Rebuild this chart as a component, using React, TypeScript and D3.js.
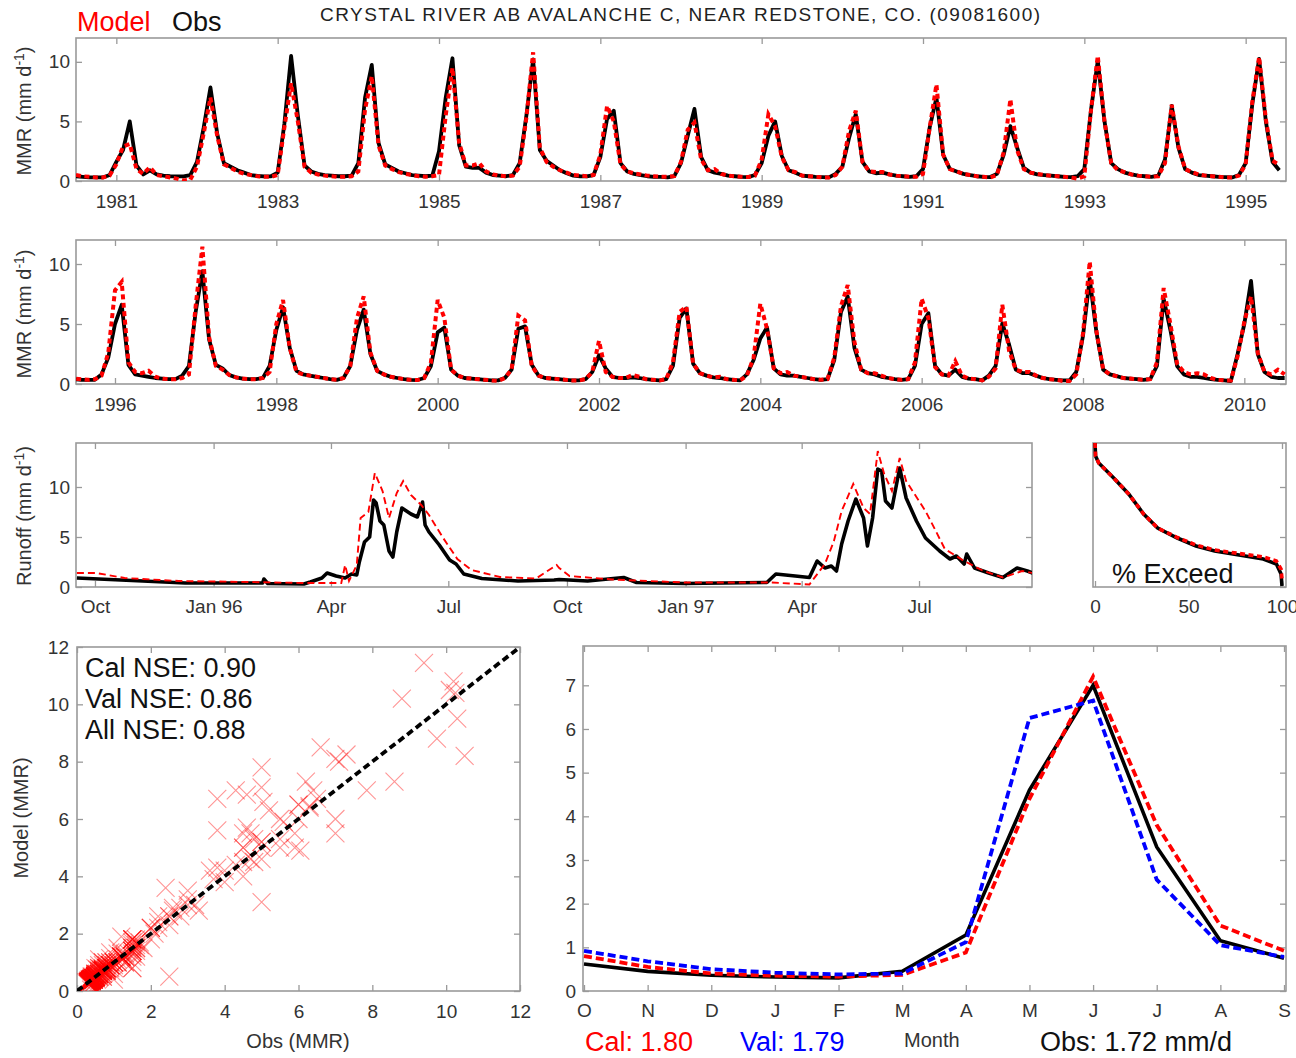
import React, { useEffect, useRef } from 'react';
import * as d3 from 'd3';

const FONT = '"Liberation Sans", Arial, Helvetica, sans-serif';
const RED = '#ff0000';
const BLUE = '#0000ff';
const FRAME = '#9a9a9a';

// monthly mean runoff (mm/d), water years 1981-1995, Oct..Sep per row
const OBS_81_95 = [
  0.4, 0.35, 0.3, 0.3, 0.3, 0.5, 1.6, 2.6, 5.0, 1.3, 0.55, 0.9,
  0.55, 0.45, 0.4, 0.38, 0.38, 0.5, 1.6, 4.5, 7.85, 4.0, 1.5, 1.2,
  0.9, 0.7, 0.5, 0.42, 0.38, 0.4, 0.7, 4.8, 10.5, 5.5, 1.3, 0.8,
  0.6, 0.5, 0.45, 0.4, 0.4, 0.45, 1.5, 7.0, 9.75, 3.2, 1.4, 1.1,
  0.8, 0.65, 0.5, 0.45, 0.4, 0.45, 2.5, 7.0, 10.3, 3.0, 1.2, 1.1,
  1.1, 0.7, 0.5, 0.45, 0.4, 0.5, 1.5, 5.5, 10.2, 2.6, 1.7, 1.3,
  0.9, 0.65, 0.45, 0.4, 0.38, 0.5, 2.0, 5.2, 5.9, 1.5, 0.8, 0.6,
  0.5, 0.4, 0.35, 0.35, 0.3, 0.4, 1.5, 3.8, 6.05, 2.0, 0.9, 0.7,
  0.6, 0.45, 0.4, 0.35, 0.33, 0.5, 1.5, 3.8, 5.0, 2.1, 0.9, 0.7,
  0.45, 0.4, 0.35, 0.32, 0.3, 0.6, 1.2, 3.6, 5.6, 1.6, 0.8, 0.65,
  0.7, 0.55, 0.45, 0.4, 0.35, 0.4, 1.0, 4.5, 7.0, 2.2, 1.0, 0.8,
  0.6, 0.5, 0.4, 0.35, 0.33, 0.6, 2.2, 4.6, 2.8, 1.1, 0.7, 0.55,
  0.5, 0.45, 0.4, 0.35, 0.33, 0.4, 1.0, 6.0, 10.1, 5.0, 1.5, 1.0,
  0.7, 0.55, 0.45, 0.4, 0.35, 0.45, 1.8, 6.3, 2.8, 1.0, 0.7, 0.5,
  0.45, 0.4, 0.35, 0.33, 0.3, 0.5, 1.5, 6.5, 10.25, 5.0, 1.6, 0.9,
];
const MOD_81_95 = [
  0.5, 0.4, 0.35, 0.3, 0.3, 0.45, 1.4, 2.9, 3.1, 1.0, 0.6, 1.15,
  0.5, 0.4, 0.3, 0.2, 0.05, 0.1, 1.2, 4.0, 7.0, 3.8, 1.4, 1.1,
  0.8, 0.6, 0.5, 0.4, 0.35, 0.35, 0.5, 4.5, 8.2, 5.0, 1.2, 0.7,
  0.55, 0.45, 0.4, 0.35, 0.35, 0.4, 0.8, 6.0, 8.8, 3.0, 1.3, 1.0,
  0.75, 0.6, 0.5, 0.4, 0.35, 0.4, 0.5, 5.5, 9.5, 3.2, 1.3, 1.3,
  1.5, 0.8, 0.55, 0.45, 0.4, 0.45, 1.2, 5.3, 10.8, 2.8, 1.6, 1.2,
  0.9, 0.7, 0.5, 0.45, 0.4, 0.5, 2.2, 6.3, 5.0, 1.4, 0.8, 0.65,
  0.55, 0.45, 0.4, 0.35, 0.35, 0.4, 1.6, 4.3, 4.9, 1.8, 0.9, 1.0,
  0.6, 0.45, 0.4, 0.35, 0.33, 0.45, 1.8, 5.6, 4.6, 2.0, 0.9, 0.75,
  0.45, 0.4, 0.35, 0.3, 0.3, 0.5, 1.2, 4.2, 5.9, 1.6, 0.8, 0.75,
  0.75, 0.55, 0.45, 0.4, 0.35, 0.35, 0.6, 4.5, 8.1, 2.2, 1.0, 0.8,
  0.6, 0.5, 0.4, 0.35, 0.3, 0.5, 2.4, 6.85, 2.6, 1.0, 0.7, 0.6,
  0.5, 0.45, 0.4, 0.35, 0.3, 0.2, 0.4, 6.0, 10.5, 5.0, 1.5, 0.9,
  0.75, 0.55, 0.45, 0.4, 0.35, 0.4, 1.5, 6.4, 2.9, 1.0, 0.75, 0.55,
  0.45, 0.4, 0.35, 0.3, 0.3, 0.45, 1.4, 6.7, 10.4, 5.2, 1.7, 1.35,
];

// water years 1996-2010 plus Oct-Nov 2010
const OBS_96_10 = [
  0.5, 0.4, 0.35, 0.35, 0.35, 0.8, 2.2, 5.0, 6.6, 1.6, 0.8, 0.7,
  0.6, 0.5, 0.45, 0.4, 0.4, 0.7, 1.5, 6.0, 9.4, 3.7, 1.6, 1.3,
  0.75, 0.55, 0.45, 0.4, 0.4, 0.5, 1.5, 4.5, 6.4, 3.0, 1.1, 0.8,
  0.7, 0.6, 0.5, 0.4, 0.35, 0.5, 1.5, 4.5, 6.2, 2.5, 1.1, 0.8,
  0.6, 0.5, 0.4, 0.35, 0.33, 0.5, 1.5, 4.3, 4.7, 1.2, 0.7, 0.5,
  0.45, 0.4, 0.35, 0.3, 0.3, 0.5, 1.2, 4.6, 4.8, 1.6, 0.7, 0.5,
  0.45, 0.4, 0.35, 0.3, 0.3, 0.4, 1.0, 2.4, 1.3, 0.6, 0.5, 0.5,
  0.55, 0.5, 0.4, 0.35, 0.3, 0.4, 1.5, 5.5, 6.3, 1.7, 0.9, 0.7,
  0.55, 0.5, 0.4, 0.35, 0.3, 0.8, 2.0, 3.8, 4.7, 1.3, 0.8, 0.7,
  0.7, 0.6, 0.5, 0.4, 0.35, 0.4, 2.0, 6.0, 7.3, 3.0, 1.2, 0.9,
  0.8, 0.6, 0.5, 0.4, 0.35, 0.4, 1.5, 5.0, 5.9, 1.5, 0.8, 0.7,
  1.2, 0.6, 0.45, 0.4, 0.3, 0.7, 1.5, 5.05, 3.3, 1.2, 0.9, 0.9,
  0.7, 0.5, 0.4, 0.35, 0.3, 0.3, 1.0, 4.0, 8.8, 4.3, 1.2, 0.8,
  0.65, 0.5, 0.45, 0.4, 0.35, 0.4, 1.5, 7.1, 4.5, 1.5, 0.8, 0.6,
  0.6, 0.5, 0.4, 0.35, 0.3, 0.25, 2.5, 5.0, 8.6, 2.5, 1.0, 0.6,
  0.5, 0.5,
];
const MOD_96_10 = [
  0.6, 0.45, 0.4, 0.35, 0.4, 0.7, 2.6, 7.8, 8.5, 1.8, 1.0, 0.9,
  1.1, 0.6, 0.45, 0.4, 0.4, 0.5, 0.8, 6.5, 11.45, 3.9, 1.5, 1.2,
  0.75, 0.55, 0.45, 0.4, 0.4, 0.5, 1.0, 5.0, 7.0, 3.0, 1.0, 0.8,
  0.7, 0.6, 0.5, 0.4, 0.35, 0.5, 1.5, 5.5, 7.3, 2.6, 1.1, 0.8,
  0.6, 0.5, 0.4, 0.35, 0.33, 0.5, 1.8, 7.0, 5.5, 1.2, 0.7, 0.5,
  0.45, 0.4, 0.35, 0.3, 0.25, 0.5, 1.2, 5.7, 5.3, 1.5, 0.7, 0.5,
  0.45, 0.4, 0.35, 0.3, 0.3, 0.4, 1.0, 3.6, 1.0, 0.6, 0.5, 0.5,
  0.75, 0.6, 0.4, 0.35, 0.3, 0.4, 1.8, 6.0, 6.45, 1.7, 0.9, 0.7,
  0.55, 0.6, 0.4, 0.35, 0.3, 0.7, 2.2, 6.7, 4.6, 1.3, 0.9, 1.0,
  0.7, 0.6, 0.5, 0.4, 0.35, 0.4, 2.2, 6.5, 8.25, 3.5, 1.2, 0.9,
  0.9, 0.7, 0.5, 0.4, 0.35, 0.4, 1.8, 7.1, 5.5, 1.4, 0.8, 0.7,
  1.9, 0.7, 0.45, 0.4, 0.3, 0.6, 1.3, 6.6, 2.8, 1.2, 1.0, 1.0,
  0.7, 0.5, 0.4, 0.35, 0.25, 0.25, 0.8, 4.2, 10.2, 4.4, 1.2, 0.8,
  0.65, 0.5, 0.45, 0.4, 0.35, 0.4, 1.8, 8.0, 5.0, 1.7, 1.0, 0.8,
  0.9, 0.8, 0.5, 0.35, 0.3, 0.3, 2.3, 5.2, 7.3, 2.6, 1.0, 0.8,
  1.2, 0.8,
];

const YEARS_A = ['1981', '1983', '1985', '1987', '1989', '1991', '1993', '1995'];
const YEARS_B = ['1996', '1998', '2000', '2002', '2004', '2006', '2008', '2010'];

// daily runoff Oct 1995 - Sep 1997, [day since 1995-10-01, mm/d]
const DAILY_OBS = [
  [-14, 0.9], [37, 0.6], [70, 0.4], [120, 0.4], [130, 0.4], [131, 0.8], [134, 0.35], [162, 0.3],
  [167, 0.5], [176, 0.9], [180, 1.4], [187, 1.1], [194, 0.9], [199, 1.3], [203, 1.2], [205, 2.5],
  [209, 4.5], [213, 5.0], [216, 8.7], [218, 8.4], [221, 6.6], [224, 6.2], [228, 3.6], [231, 3.0],
  [234, 5.5], [238, 7.9], [245, 7.3], [250, 7.0], [254, 8.5], [256, 6.2], [259, 5.5], [267, 4.2],
  [275, 2.7], [280, 2.3], [286, 1.3], [300, 0.85], [328, 0.6], [356, 0.7], [360, 0.75], [382, 0.6],
  [410, 0.95], [420, 0.45], [457, 0.35], [521, 0.45], [528, 1.3], [543, 1.1], [554, 0.95], [560, 2.6],
  [566, 1.9], [571, 2.1], [575, 1.6], [579, 4.3], [584, 6.6], [590, 8.8], [596, 6.9], [599, 4.1],
  [603, 6.9], [607, 11.8], [610, 11.6], [613, 8.6], [618, 7.9], [624, 11.9], [629, 8.9], [637, 6.6],
  [644, 4.9], [655, 3.6], [663, 2.8], [668, 3.1], [674, 2.3], [676, 3.3], [682, 1.9], [693, 1.4],
  [704, 0.95], [715, 1.9], [723, 1.6], [727, 1.4],
];
const DAILY_MOD = [
  [-14, 1.4], [1, 1.4], [23, 0.9], [65, 0.6], [120, 0.5], [162, 0.4], [191, 0.4], [194, 2.2],
  [197, 0.6], [203, 2.2], [206, 6.9], [212, 7.5], [217, 11.4], [223, 9.6], [228, 6.9], [234, 9.4],
  [239, 10.6], [245, 9.2], [253, 8.2], [259, 7.2], [270, 4.9], [281, 2.8], [292, 1.7], [314, 1.0],
  [342, 0.85], [358, 2.2], [360, 1.9], [368, 1.1], [401, 0.75], [457, 0.45], [525, 0.45], [554, 0.25],
  [566, 2.3], [573, 4.6], [579, 7.6], [588, 10.3], [596, 7.9], [601, 7.3], [607, 13.6], [612, 11.3],
  [618, 9.6], [624, 12.9], [629, 10.6], [644, 7.6], [652, 5.6], [659, 3.8], [674, 2.6], [689, 1.6],
  [704, 0.95], [719, 1.6], [727, 1.4],
];
const RUNOFF_TICK_DATES = ['1995-10-01', '1996-01-01', '1996-04-01', '1996-07-01', '1996-10-01', '1997-01-01', '1997-04-01', '1997-07-01'];
const RUNOFF_TICK_LABELS = ['Oct', 'Jan 96', 'Apr', 'Jul', 'Oct', 'Jan 97', 'Apr', 'Jul'];

// flow duration curve
const EXC_PCT = [0, 0.3, 2, 10, 18, 26, 33.5, 44, 54, 64, 77, 90, 97, 99.5, 100];
const EXC_OBS = [14.4, 13.1, 12.4, 10.9, 9.3, 7.3, 5.9, 4.9, 4.1, 3.6, 3.2, 2.8, 2.3, 1.3, 0.1];
const EXC_MOD = [14.4, 13.1, 12.4, 10.9, 9.3, 7.3, 5.9, 4.95, 4.2, 3.7, 3.35, 3.0, 2.6, 1.8, 0.8];

// mean monthly climatology
const MONTHS = ['O', 'N', 'D', 'J', 'F', 'M', 'A', 'M', 'J', 'J', 'A', 'S'];
const CLIM_OBS = [0.62, 0.45, 0.36, 0.32, 0.3, 0.45, 1.28, 4.6, 7.0, 3.3, 1.15, 0.75];
const CLIM_CAL = [0.8, 0.55, 0.4, 0.35, 0.33, 0.37, 0.88, 4.4, 7.2, 3.8, 1.5, 0.92];
const CLIM_VAL = [0.92, 0.68, 0.5, 0.42, 0.38, 0.4, 1.12, 6.25, 6.65, 2.55, 1.05, 0.78];

const NSE_LINES = ['Cal NSE: 0.90', 'Val NSE: 0.86', 'All NSE: 0.88'];

const App = () => {
  const ref = useRef<SVGSVGElement>(null);

  useEffect(() => {
    const svg = d3.select(ref.current);
    svg.selectAll('*').remove();
    const defs = svg.append('defs');

    const styleAxis = (g: any, size = 19) => {
      g.select('.domain').remove();
      g.selectAll('line').attr('stroke', FRAME).attr('stroke-width', 1.3);
      g.selectAll('text').attr('font-family', FONT).attr('font-size', size).attr('fill', '#333');
    };
    const box = (x0: number, x1: number, y0: number, y1: number) =>
      svg.append('rect').attr('x', x0).attr('y', y0).attr('width', x1 - x0).attr('height', y1 - y0)
        .attr('fill', 'none').attr('stroke', FRAME).attr('stroke-width', 1.6);
    const clipped = (id: string, x0: number, x1: number, y0: number, y1: number) => {
      defs.append('clipPath').attr('id', id).append('rect')
        .attr('x', x0).attr('y', y0).attr('width', x1 - x0).attr('height', y1 - y0);
      return svg.append('g').attr('clip-path', `url(#${id})`);
    };
    const text = (x: number, y: number, s: string, size: number, fill = '#111', anchor = 'start') =>
      svg.append('text').attr('x', x).attr('y', y).attr('font-family', FONT).attr('font-size', size)
        .attr('fill', fill).attr('text-anchor', anchor).text(s);
    const yLabel = (x: number, cy: number, main: string, size = 20) => {
      const t = svg.append('text').attr('transform', `translate(${x},${cy}) rotate(-90)`)
        .attr('text-anchor', 'middle').attr('font-family', FONT).attr('font-size', size).attr('fill', '#333');
      t.append('tspan').text(main + ' (mm d');
      t.append('tspan').attr('dy', -7).attr('font-size', size * 0.7).text('-1');
      t.append('tspan').attr('dy', 7).text(')');
    };

    // titles
    text(77, 31, 'Model', 27, RED);
    text(172, 31, 'Obs', 27, '#111');
    text(320, 21, 'CRYSTAL RIVER AB AVALANCHE C, NEAR REDSTONE, CO. (09081600)', 19, '#222')
      .attr('textLength', 720).attr('lengthAdjust', 'spacing');

    // monthly series panels
    const seriesPanel = (id: string, top: number, bottom: number, domain: number[], obs: number[], mod: number[],
      tickIdx: number[], labels: string[]) => {
      const x = d3.scaleLinear().domain(domain).range([76, 1286]);
      const y = d3.scaleLinear().domain([0, 12]).range([bottom, top]);
      box(76, 1286, top, bottom);
      svg.append('g').attr('transform', `translate(0,${bottom})`)
        .call(d3.axisBottom(x).tickValues(tickIdx).tickFormat((_d, i) => labels[i]).tickSize(-6).tickPadding(14))
        .call(styleAxis);
      svg.append('g').attr('transform', `translate(0,${top})`)
        .call(d3.axisTop(x).tickValues(tickIdx).tickFormat(() => '').tickSize(-6)).call(styleAxis);
      svg.append('g').attr('transform', 'translate(76,0)')
        .call(d3.axisLeft(y).tickValues([0, 5, 10]).tickSize(-6).tickPadding(6)).call(styleAxis);
      svg.append('g').attr('transform', 'translate(1286,0)')
        .call(d3.axisRight(y).tickValues([0, 5, 10]).tickFormat(() => '').tickSize(-6)).call(styleAxis);
      const line = d3.line<number>().x((_d, i) => x(i)).y((d) => y(d));
      const g = clipped(id, 76, 1286, top - 2, bottom);
      g.append('path').datum(obs).attr('d', line).attr('fill', 'none').attr('stroke', '#000')
        .attr('stroke-width', 3.8).attr('stroke-linejoin', 'round');
      g.append('path').datum(mod).attr('d', line).attr('fill', 'none').attr('stroke', RED)
        .attr('stroke-width', 4).attr('stroke-dasharray', '5,3.5');
    };
    seriesPanel('clipA', 38, 181, [0, 180], OBS_81_95, MOD_81_95, YEARS_A.map((_d, i) => 6 + 24 * i), YEARS_A);
    seriesPanel('clipB', 240, 384, [1.2, 181.2], OBS_96_10, MOD_96_10, YEARS_B.map((_d, i) => 7 + 24 * i), YEARS_B);
    yLabel(31, 111, 'MMR');
    yLabel(31, 314, 'MMR');

    // daily runoff panel
    const start = new Date(1995, 9, 1);
    const xr = d3.scaleLinear().domain([-14.7, 726.6]).range([76, 1032]);
    const yr = d3.scaleLinear().domain([0, 14.4]).range([587, 443]);
    const rTicks = RUNOFF_TICK_DATES.map((s) => d3.timeDay.count(start, d3.timeParse('%Y-%m-%d')(s) as Date));
    box(76, 1032, 443, 587);
    svg.append('g').attr('transform', 'translate(0,587)')
      .call(d3.axisBottom(xr).tickValues(rTicks).tickFormat((_d, i) => RUNOFF_TICK_LABELS[i]).tickSize(-6).tickPadding(13))
      .call(styleAxis);
    svg.append('g').attr('transform', 'translate(0,443)')
      .call(d3.axisTop(xr).tickValues(rTicks).tickFormat(() => '').tickSize(-6)).call(styleAxis);
    svg.append('g').attr('transform', 'translate(76,0)')
      .call(d3.axisLeft(yr).tickValues([0, 5, 10]).tickSize(-6).tickPadding(6)).call(styleAxis);
    svg.append('g').attr('transform', 'translate(1032,0)')
      .call(d3.axisRight(yr).tickValues([0, 5, 10]).tickFormat(() => '').tickSize(-6)).call(styleAxis);
    const rLine = d3.line<number[]>().x((d) => xr(d[0])).y((d) => yr(d[1]));
    const gr = clipped('clipR', 76, 1032, 443, 587);
    gr.append('path').datum(DAILY_OBS).attr('d', rLine).attr('fill', 'none').attr('stroke', '#000')
      .attr('stroke-width', 3.6).attr('stroke-linejoin', 'round');
    gr.append('path').datum(DAILY_MOD).attr('d', rLine).attr('fill', 'none').attr('stroke', RED)
      .attr('stroke-width', 1.9).attr('stroke-dasharray', '7,4');
    yLabel(31, 516, 'Runoff');

    // exceedance panel
    const xe = d3.scaleLinear().domain([0, 100]).range([1095, 1282]);
    box(1093, 1286, 443, 587);
    svg.append('g').attr('transform', 'translate(0,587)')
      .call(d3.axisBottom(xe).tickValues([0, 50, 100]).tickSize(-6).tickPadding(13)).call(styleAxis);
    svg.append('g').attr('transform', 'translate(0,443)')
      .call(d3.axisTop(xe).tickValues([0, 50, 100]).tickFormat(() => '').tickSize(-6)).call(styleAxis);
    svg.append('g').attr('transform', 'translate(1286,0)')
      .call(d3.axisRight(yr).tickValues([0, 5, 10]).tickFormat(() => '').tickSize(-6)).call(styleAxis);
    const eLine = (vals: number[]) => d3.line<number>().x((_d, i) => xe(EXC_PCT[i])).y((d) => yr(d))(vals);
    const ge = clipped('clipE', 1093, 1286, 443, 587);
    ge.append('path').attr('d', eLine(EXC_OBS)).attr('fill', 'none').attr('stroke', '#000').attr('stroke-width', 3.6);
    ge.append('path').attr('d', eLine(EXC_MOD)).attr('fill', 'none').attr('stroke', RED)
      .attr('stroke-width', 3.6).attr('stroke-dasharray', '5,3.5');
    text(1112, 583, '% Exceed', 27, '#111');

    // scatter panel
    const xs = d3.scaleLinear().domain([0, 12]).range([77, 520]);
    const ys = d3.scaleLinear().domain([0, 12]).range([991, 647]);
    const sTicks = [0, 2, 4, 6, 8, 10, 12];
    box(77, 520, 647, 991);
    svg.append('g').attr('transform', 'translate(0,991)')
      .call(d3.axisBottom(xs).tickValues(sTicks).tickSize(-6).tickPadding(14)).call(styleAxis);
    svg.append('g').attr('transform', 'translate(0,647)')
      .call(d3.axisTop(xs).tickValues(sTicks).tickFormat(() => '').tickSize(-6)).call(styleAxis);
    svg.append('g').attr('transform', 'translate(77,0)')
      .call(d3.axisLeft(ys).tickValues(sTicks).tickSize(-6).tickPadding(8)).call(styleAxis);
    svg.append('g').attr('transform', 'translate(520,0)')
      .call(d3.axisRight(ys).tickValues(sTicks).tickFormat(() => '').tickSize(-6)).call(styleAxis);
    const pairs = d3.zip(OBS_81_95.concat(OBS_96_10.slice(0, 180)), MOD_81_95.concat(MOD_96_10.slice(0, 180)));
    const gs = clipped('clipS', 77, 520, 647, 991);
    gs.selectAll('path.pt').data(pairs).enter().append('path').attr('class', 'pt')
      .attr('transform', (d) => `translate(${xs(d[0])},${ys(d[1])})`)
      .attr('d', 'M-9,-9L9,9M-9,9L9,-9')
      .attr('stroke', RED).attr('stroke-opacity', 0.42).attr('stroke-width', 1.1).attr('fill', 'none');
    gs.append('path').datum([[0, 0], [12, 12]])
      .attr('d', d3.line<number[]>().x((d) => xs(d[0])).y((d) => ys(d[1])))
      .attr('stroke', '#000').attr('stroke-width', 3.8).attr('stroke-dasharray', '7,4').attr('fill', 'none');
    NSE_LINES.forEach((s, i) => text(85, 677 + 31 * i, s, 27, '#111'));
    svg.append('text').attr('transform', 'translate(28,818) rotate(-90)').attr('text-anchor', 'middle')
      .attr('font-family', FONT).attr('font-size', 20).attr('fill', '#333').text('Model (MMR)');
    text(298, 1048, 'Obs (MMR)', 20, '#333', 'middle');

    // monthly climatology panel
    const xm = d3.scaleLinear().domain([0, 11]).range([584, 1284]);
    const ym = d3.scaleLinear().domain([0, 7.9]).range([991, 646]);
    const mIdx = d3.range(12);
    box(583, 1286, 646, 991);
    svg.append('g').attr('transform', 'translate(0,991)')
      .call(d3.axisBottom(xm).tickValues(mIdx).tickFormat((_d, i) => MONTHS[i]).tickSize(-6).tickPadding(13))
      .call(styleAxis);
    svg.append('g').attr('transform', 'translate(0,646)')
      .call(d3.axisTop(xm).tickValues(mIdx).tickFormat(() => '').tickSize(-6)).call(styleAxis);
    svg.append('g').attr('transform', 'translate(583,0)')
      .call(d3.axisLeft(ym).tickValues(d3.range(8)).tickSize(-6).tickPadding(7)).call(styleAxis);
    svg.append('g').attr('transform', 'translate(1286,0)')
      .call(d3.axisRight(ym).tickValues(d3.range(8)).tickFormat(() => '').tickSize(-6)).call(styleAxis);
    const mLine = d3.line<number>().x((_d, i) => xm(i)).y((d) => ym(d));
    const gm = clipped('clipM', 583, 1286, 646, 991);
    gm.append('path').datum(CLIM_OBS).attr('d', mLine).attr('fill', 'none').attr('stroke', '#000').attr('stroke-width', 3.6);
    gm.append('path').datum(CLIM_CAL).attr('d', mLine).attr('fill', 'none').attr('stroke', RED)
      .attr('stroke-width', 3.8).attr('stroke-dasharray', '8,4');
    gm.append('path').datum(CLIM_VAL).attr('d', mLine).attr('fill', 'none').attr('stroke', BLUE)
      .attr('stroke-width', 3.8).attr('stroke-dasharray', '8,4');
    text(585, 1051, 'Cal: 1.80', 27, RED);
    text(740, 1051, 'Val: 1.79', 27, BLUE);
    text(904, 1047, 'Month', 20, '#333');
    text(1040, 1051, 'Obs: 1.72 mm/d', 27, '#111');
  }, []);

  return (
    <svg ref={ref} width={1296} height={1058}
      style={{ position: 'absolute', left: 0, top: 0, background: '#fff' }} />
  );
};

export default App;
